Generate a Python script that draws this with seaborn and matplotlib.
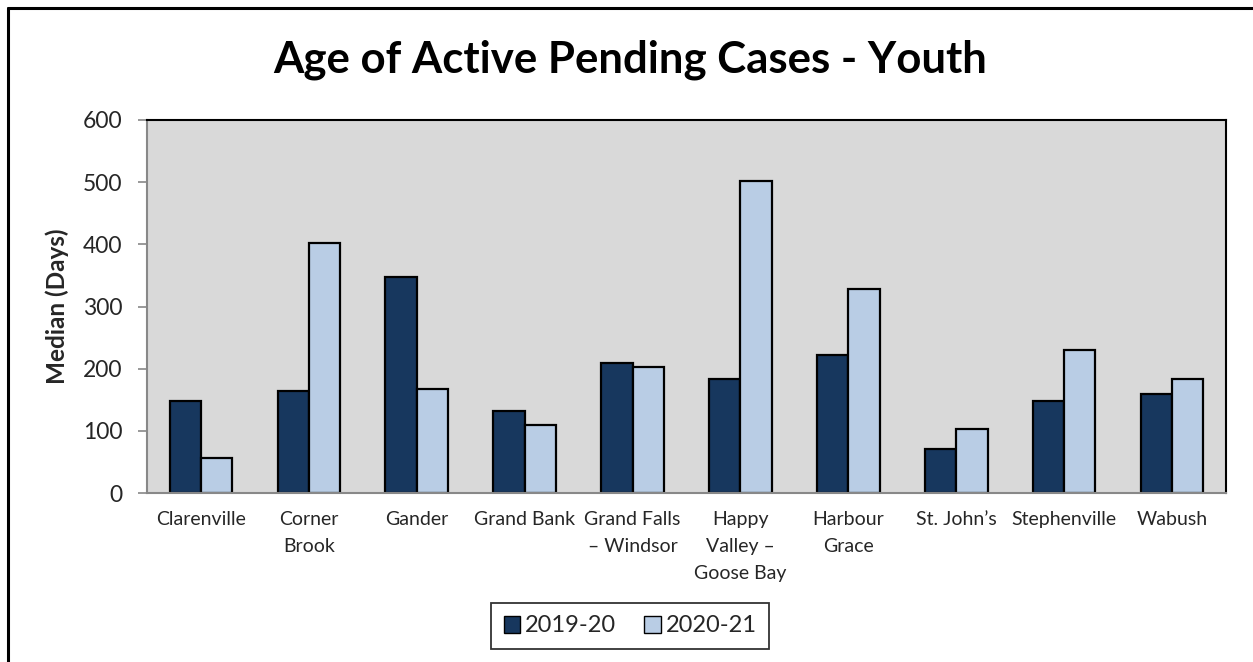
import matplotlib
matplotlib.use("Agg")
import matplotlib.pyplot as plt
import seaborn as sns
import pandas as pd
from matplotlib.lines import Line2D
from matplotlib.patches import Patch

categories = ["Clarenville", "Corner\nBrook", "Gander", "Grand Bank", "Grand Falls\n\u2013 Windsor",
              "Happy\nValley \u2013\nGoose Bay", "Harbour\nGrace", "St. John\u2019s", "Stephenville", "Wabush"]
series_names = ["2019-20", "2020-21"]
values_2019_20 = [148, 164, 348, 132, 209, 183, 222, 71, 148, 160]
values_2020_21 = [56, 402, 167, 109, 203, 502, 328, 103, 230, 184]
y_ticks = [0, 100, 200, 300, 400, 500, 600]

df = pd.DataFrame({
    "Region": categories * 2,
    "Series": [series_names[0]] * len(categories) + [series_names[1]] * len(categories),
    "Value": values_2019_20 + values_2020_21,
})

sns.set_theme(style="white")
plt.rcParams['font.family'] = ['Lato', 'DejaVu Sans']

W, H = 1253, 662
fig = plt.figure(figsize=(W / 100, H / 100), dpi=100)
ax = fig.add_axes([147 / W, (H - 493) / H, (1226 - 147) / W, (493 - 120) / H])

colors = ["#17375e", "#b9cde5"]
sns.barplot(data=df, x="Region", y="Value", hue="Series", palette=colors, ax=ax,
            width=0.58, gap=0, edgecolor="black", linewidth=1.6, legend=False, saturation=1)

ax.set_facecolor("#d9d9d9")
ax.set_ylim(0, 600)
ax.set_xlim(-0.5, len(categories) - 0.5)
ax.set_yticks(y_ticks)
ax.set_yticklabels([str(t) for t in y_ticks], fontsize=16.5)
ax.tick_params(axis="y", which="both", left=True, length=6.5, width=1.2, color="#888888", pad=11)
ax.tick_params(axis="x", bottom=False, pad=7)
for lbl in ax.get_xticklabels():
    lbl.set_fontsize(14)
    lbl.set_linespacing(1.72)
    lbl.set_verticalalignment("top")
ax.set_xlabel("")
ax.set_ylabel("Median (Days)", fontsize=17.5, fontweight="bold")
ax.yaxis.set_label_coords((69 - 147) / (1226 - 147), 0.5)

ax.spines["left"].set_color("#888888")
ax.spines["bottom"].set_color("#888888")
ax.spines["left"].set_linewidth(1.5)
ax.spines["bottom"].set_linewidth(1.5)
ax.spines["top"].set_color("black")
ax.spines["right"].set_color("black")
ax.spines["top"].set_linewidth(1.5)
ax.spines["right"].set_linewidth(1.5)

fig.text(630 / W, 1 - 60 / H, "Age of Active Pending Cases - Youth", ha="center", va="center",
         fontsize=31.5, fontweight="bold", color="black")

handles = [Patch(facecolor=colors[0], edgecolor="black", linewidth=1),
           Patch(facecolor=colors[1], edgecolor="black", linewidth=1)]
leg = fig.legend(handles, series_names, loc="center", bbox_to_anchor=(630 / W, 1 - 626 / H),
                 ncol=2, fontsize=17, frameon=True, fancybox=False, edgecolor="black",
                 handlelength=0.7, handleheight=0.7, handletextpad=0.2, columnspacing=1.2,
                 borderpad=0.55, borderaxespad=0)
leg.get_frame().set_linewidth(1.3)

# outer chart border (left and top)
fig.add_artist(Line2D([7.5 / W, 7.5 / W], [0, 1 - 7.5 / H], transform=fig.transFigure, color="black", linewidth=2.2))
fig.add_artist(Line2D([7.5 / W, 1], [1 - 7.5 / H, 1 - 7.5 / H], transform=fig.transFigure, color="black", linewidth=2.2))

fig.savefig("out.png", dpi=100)
